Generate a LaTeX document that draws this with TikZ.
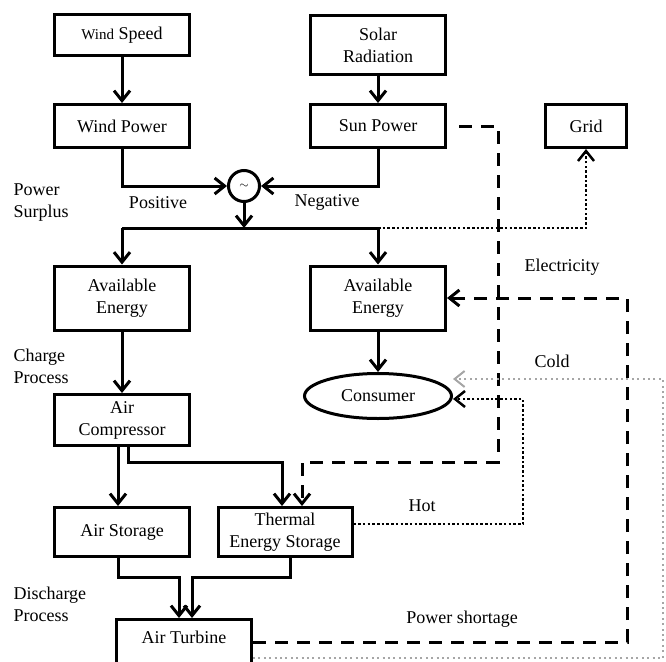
\documentclass[tikz,border=0pt]{standalone}
\usepackage{fontspec}
\setmainfont{Liberation Serif}
\usetikzlibrary{positioning, arrows.meta, shapes.geometric}

\begin{document}
\begin{tikzpicture}[
        x=1pt, y=-1pt,
        on grid,
        font=\fontsize{18}{22}\selectfont,
        >={Straight Barb[length=10pt,width=16pt]},
        block/.style={draw, line width=3pt, minimum width=135pt, minimum height=43pt, align=center, inner sep=2pt},
        flow/.style={line width=3pt, ->},
        elec/.style={line width=3pt, ->, dash pattern=on 13pt off 9pt},
        heat/.style={line width=2.5pt, ->, dash pattern=on 2.5pt off 2.2pt},
        cold/.style={line width=2pt, ->, gray!70, dash pattern=on 2pt off 3.4pt},
        note/.style={align=left, anchor=west}
    ]
        \path[use as bounding box, clip] (0,0) rectangle (666,661);

        % sources
        \node[block, minimum height=41pt] (wspeed) at (122,35) {{\fontsize{15}{18}\selectfont Wind} Speed};
        \node[block] (wpower) [below=91pt of wspeed] {Wind Power};
        \node[block, minimum height=58pt] (solar) at (378,45) {Solar\\Radiation};
        \node[block] (sun) [below=81pt of solar] {Sun Power};
        \node[block, minimum width=81pt] (grid) [right=208pt of sun] {Grid};
        \node[circle, draw, line width=3pt, minimum size=31pt, inner sep=0pt, font=\fontsize{12}{12}\selectfont] (mix) at (244,186) {$\sim$};
        \coordinate (split) at (244,228);

        % storage side
        \node[block, minimum height=64pt] (ae1) at (122,298) {Available\\Energy};
        \node[block, minimum height=64pt] (ae2) [right=256pt of ae1] {Available\\Energy};
        \node[ellipse, draw, line width=3pt, minimum width=147pt, minimum height=45pt, inner sep=0pt] (consumer) [below=98pt of ae2] {Consumer};
        \node[block, minimum height=51pt] (comp) [below=122pt of ae1] {Air\\Compressor};
        \node[block, minimum height=49pt] (astore) [below=112pt of comp] {Air Storage};
        \node[block, minimum height=49pt, minimum width=134pt] (tes) [right=163pt of astore] {Thermal\\Energy Storage};
        \node[block, minimum height=60pt, anchor=north, text depth=24pt] (turb) at (184,618) {Air Turbine};

        % labels
        \node[note] (surplus) at (10,203) {Power\\Surplus};
        \node (pos) at (158,203) {Positive};
        \node (neg) at (327,202) {Negative};
        \node (elecl) at (562,267) {Electricity};
        \node (coldl) at (552,361) {Cold};
        \node[note] (charge) at (10,366) {Charge\\Process};
        \node (hotl) at (422,506) {Hot};
        \node[note] (discharge) at (10,604) {Discharge\\Process};
        \node (short) at (462,619) {Power shortage};

        % solid flows
        \draw[flow] (wspeed) -- (wpower);
        \draw[flow] (solar) -- (sun);
        \draw[flow] (wpower.south) |- (mix.west);
        \draw[flow] (sun.south) |- (mix.east);
        \draw[flow] (mix.south) -- (split);
        \draw[line width=3pt] (ae1.north |- split) -- (ae2.north |- split);
        \draw[flow] (ae1.north |- split) -- (ae1.north);
        \draw[flow] (ae2.north |- split) -- (ae2.north);
        \draw[flow] (ae1) -- (comp);
        \draw[flow] (ae2) -- (consumer);

        \coordinate (chg) at (282,462);
        \draw[flow] ([xshift=-4pt]comp.south) -- ([xshift=-4pt]astore.north);
        \draw[flow] ([xshift=6pt]comp.south) |- (chg) -- (chg |- tes.north);

        \coordinate (dis) at (0,577);
        \draw[flow] ([xshift=-4pt]astore.south) |- ([xshift=-5pt]turb.north |- dis) -- ([xshift=-5pt]turb.north);
        \draw[flow] ([xshift=5pt]tes.south) |- ([xshift=8pt]turb.north |- dis) -- ([xshift=8pt]turb.north);

        % electricity and heat
        \draw[heat] (ae2.north |- split) -| (grid.south);
        \draw[elec] ([xshift=12pt]sun.east) -| (498,462) -| ([xshift=17pt]tes.north);
        \draw[elec] ([yshift=-24pt]turb.north east) -| (627,298) -- (ae2.east);
        \draw[heat] ([yshift=8pt]tes.east) -| (523,399) -- ([yshift=-3pt]consumer.east);

        \coordinate (coldturn) at (663,379);
        \draw[cold] ([yshift=-40pt]turb.north east) -| (coldturn) -- (consumer.east |- coldturn);
\end{tikzpicture}
\end{document}
